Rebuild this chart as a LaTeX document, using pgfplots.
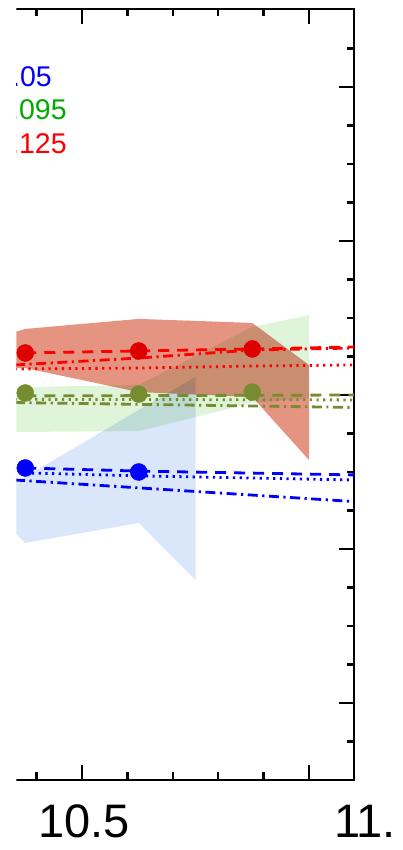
\documentclass[border=0pt]{standalone}
\usepackage{pgfplots}
\pgfplotsset{compat=1.18}
\usepackage{fontspec}
\setmainfont{Liberation Sans}
\definecolor{redfill}{RGB}{229,148,130}
\definecolor{greenfill}{RGB}{223,245,218}
\definecolor{bluefill}{RGB}{218,230,250}
\definecolor{olivec}{RGB}{119,140,48}
\definecolor{redmark}{RGB}{222,0,0}
\definecolor{legendgreen}{RGB}{0,170,0}
\tikzset{
  mydash/.style={dash pattern=on 11pt off 8pt},
  mydot/.style={dash pattern=on 2.2pt off 4.5pt},
  mydashdot/.style={dash pattern=on 10pt off 4.5pt on 2.2pt off 4.5pt},
}
\begin{document}
\begin{tikzpicture}
\begin{scope}
\clip (16.3pt,0pt) rectangle (403pt,850pt);
\begin{axis}[
  at={(15pt,70pt)}, anchor=south west,
  scale only axis, width=339pt, height=771pt,
  xmin=10.3524, xmax=11.0991, ymin=0, ymax=5.0065,
  xtick={10.5,11.0}, minor xtick={10.4,10.6,10.7,10.8,10.9},
  ytick={0.5,1.5,2.5,3.5,4.5},
  minor ytick={0.25,0.75,1,1.25,1.75,2,2.25,2.75,3,3.25,3.75,4,4.25,4.75},
  xtick pos=both, ytick pos=right,
  xticklabels={}, yticklabels={},
  tick align=inside, major tick length=15pt, minor tick length=7.5pt,
  tick style={black, line width=2.3pt},
  axis line style={black, line width=2.6pt},
  clip=false,
]
% shaded ranges
\addplot[draw=none, fill=redfill, blend mode=multiply] coordinates {
 (10.3524,2.909) (10.375,2.929) (10.625,2.994) (10.875,2.968) (11.0,2.695)
 (11.0,2.078) (10.875,2.487) (10.625,2.519) (10.375,2.675) (10.3524,2.675)};
\addplot[draw=none, fill=greenfill, blend mode=multiply] coordinates {
 (10.3524,2.545) (10.375,2.552) (10.625,2.565) (10.875,2.942) (11.0,3.019)
 (11.0,2.481) (10.875,2.448) (10.625,2.266) (10.375,2.260) (10.3524,2.260)};
\addplot[draw=none, fill=bluefill, blend mode=multiply] coordinates {
 (10.3524,1.929) (10.375,1.968) (10.625,2.403) (10.75,2.617)
 (10.75,1.299) (10.625,1.669) (10.375,1.539) (10.3524,1.604)};
% red lines
\addplot[red, line width=2.8pt, mydash] coordinates {(10.375,2.773) (10.625,2.786) (10.875,2.799) (11.0991,2.812)};
\addplot[red, line width=2.8pt, mydashdot] coordinates {(10.3524,2.695) (10.625,2.740) (10.875,2.792) (11.0991,2.805)};
\addplot[red, line width=2.8pt, mydot] coordinates {(10.3524,2.669) (10.625,2.675) (10.875,2.688) (11.0991,2.695)};
% green lines
\addplot[olivec, line width=2.8pt, mydash] coordinates {(10.375,2.494) (10.625,2.496) (10.875,2.498) (11.0991,2.500)};
\addplot[olivec, line width=2.8pt, mydot] coordinates {(10.3524,2.472) (11.0991,2.468)};
\addplot[olivec, line width=2.8pt, mydashdot] coordinates {(10.3524,2.451) (11.0991,2.419)};
% blue lines
\addplot[blue, line width=2.8pt, mydash] coordinates {(10.375,2.026) (10.625,2.006) (11.0991,1.981)};
\addplot[blue, line width=2.8pt, mydot] coordinates {(10.375,1.994) (10.625,1.975) (11.0991,1.948)};
\addplot[blue, line width=2.8pt, mydashdot] coordinates {(10.3524,1.948) (11.0991,1.808)};
% data points
\addplot[only marks, mark=*, mark size=8.5pt, color=redmark, mark options={solid, draw=redmark, fill=redmark}] coordinates {(10.375,2.773) (10.625,2.786) (10.875,2.799)};
\addplot[only marks, mark=*, mark size=8.5pt, color=olivec, mark options={solid, draw=olivec, fill=olivec}] coordinates {(10.375,2.513) (10.625,2.506) (10.875,2.519)};
\addplot[only marks, mark=*, mark size=8.5pt, color=blue, mark options={solid, draw=blue, fill=blue}] coordinates {(10.375,2.026) (10.625,2.0)};
% tick labels
\node[anchor=base, inner sep=0pt, font=\fontsize{47}{47}\selectfont, yshift=-57pt] at (axis cs:10.504,0) {10.5};
\node[anchor=base, inner sep=0pt, font=\fontsize{47}{47}\selectfont, yshift=-57pt] at (axis cs:11.1233,0) {11.};
\end{axis}
\node[anchor=base west, inner sep=0pt, font=\fontsize{28.5}{28.5}\selectfont, text=blue] at (12pt,763pt) {.05};
\node[anchor=base west, inner sep=0pt, font=\fontsize{28.5}{28.5}\selectfont, text=legendgreen] at (11pt,730pt) {.095};
\node[anchor=base west, inner sep=0pt, font=\fontsize{28.5}{28.5}\selectfont, text=red] at (11pt,696pt) {.125};
\end{scope}
\pgfresetboundingbox
\path[use as bounding box] (0pt,0pt) rectangle (403pt,850pt);
\end{tikzpicture}
\end{document}
